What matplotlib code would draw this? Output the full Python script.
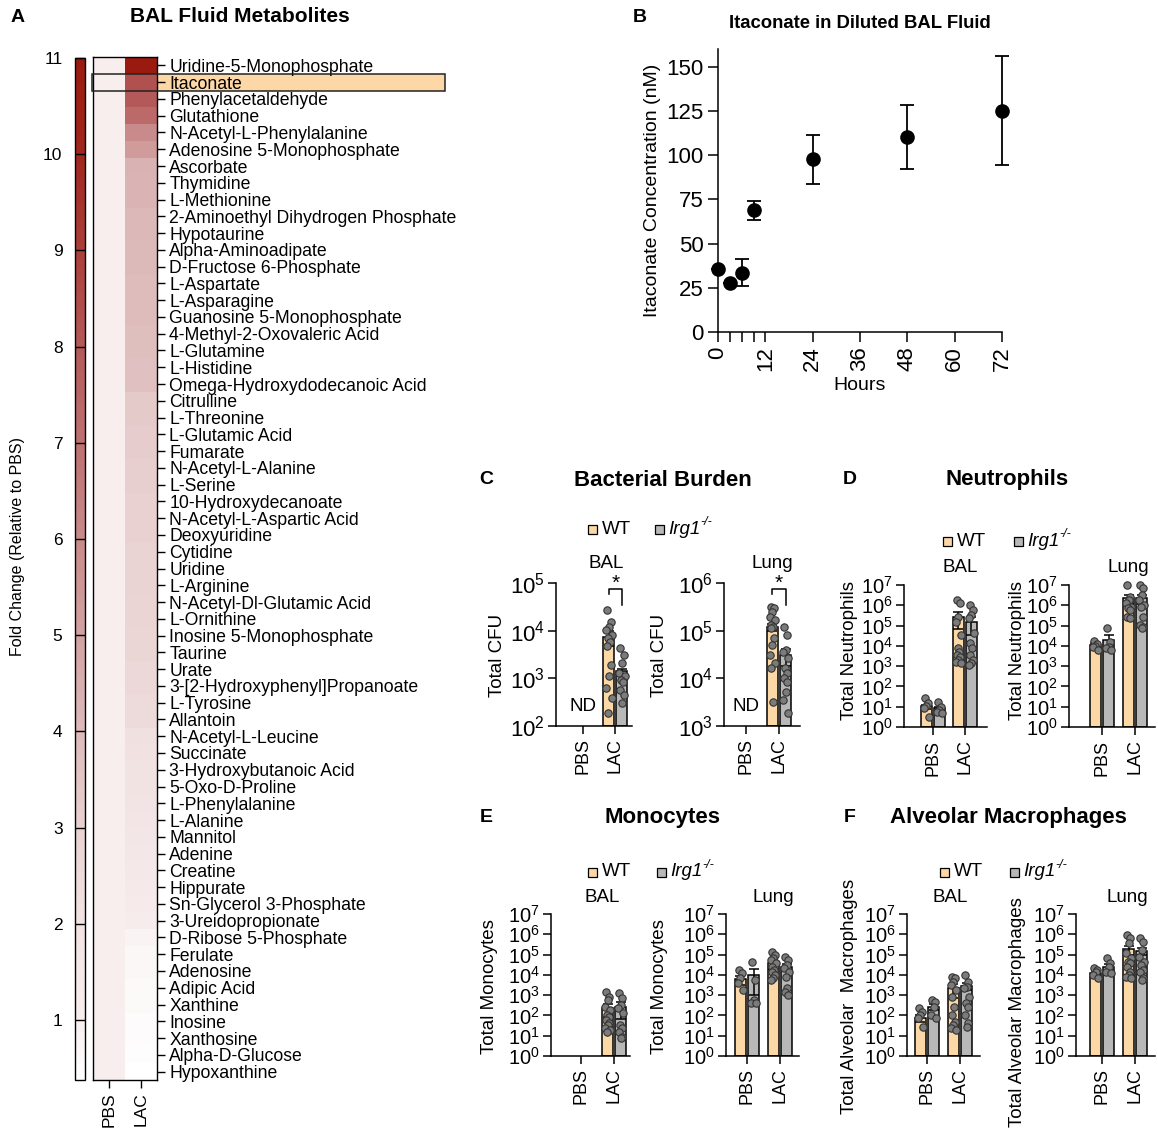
import numpy as np
import matplotlib
matplotlib.use('Agg')
import matplotlib.pyplot as plt
from matplotlib.colors import LinearSegmentedColormap
from matplotlib.patches import Rectangle

plt.rcParams['font.family'] = ['Liberation Sans', 'DejaVu Sans']
plt.rcParams['mathtext.fontset'] = 'custom'
plt.rcParams['mathtext.rm'] = 'Liberation Sans'
plt.rcParams['mathtext.it'] = 'Liberation Sans:italic'
plt.rcParams['axes.linewidth'] = 1.1

# ---------------- data ----------------
METABOLITES = [
    'Uridine-5-Monophosphate', 'Itaconate', 'Phenylacetaldehyde', 'Glutathione',
    'N-Acetyl-L-Phenylalanine', 'Adenosine 5-Monophosphate', 'Ascorbate', 'Thymidine',
    'L-Methionine', '2-Aminoethyl Dihydrogen Phosphate', 'Hypotaurine', 'Alpha-Aminoadipate',
    'D-Fructose 6-Phosphate', 'L-Aspartate', 'L-Asparagine', 'Guanosine 5-Monophosphate',
    '4-Methyl-2-Oxovaleric Acid', 'L-Glutamine', 'L-Histidine', 'Omega-Hydroxydodecanoic Acid',
    'Citrulline', 'L-Threonine', 'L-Glutamic Acid', 'Fumarate', 'N-Acetyl-L-Alanine',
    'L-Serine', '10-Hydroxydecanoate', 'N-Acetyl-L-Aspartic Acid', 'Deoxyuridine', 'Cytidine',
    'Uridine', 'L-Arginine', 'N-Acetyl-Dl-Glutamic Acid', 'L-Ornithine',
    'Inosine 5-Monophosphate', 'Taurine', 'Urate', '3-[2-Hydroxyphenyl]Propanoate',
    'L-Tyrosine', 'Allantoin', 'N-Acetyl-L-Leucine', 'Succinate', '3-Hydroxybutanoic Acid',
    '5-Oxo-D-Proline', 'L-Phenylalanine', 'L-Alanine', 'Mannitol', 'Adenine', 'Creatine',
    'Hippurate', 'Sn-Glycerol 3-Phosphate', '3-Ureidopropionate', 'D-Ribose 5-Phosphate',
    'Ferulate', 'Adenosine', 'Adipic Acid', 'Xanthine', 'Inosine', 'Xanthosine',
    'Alpha-D-Glucose', 'Hypoxanthine']
LAC_FC = [11.0, 8.3, 8.0, 7.3, 6.0, 5.3,
          4.3, 4.2, 4.2, 4.1, 4.1, 4.0, 4.0, 3.9, 3.9, 3.9, 3.8, 3.8, 3.7, 3.7,
          3.3, 3.3, 3.2, 3.2, 3.1, 3.1, 3.0, 3.0, 3.0, 2.9, 2.9, 2.9, 2.8, 2.8, 2.7,
          2.7, 2.6, 2.6, 2.5, 2.5,
          2.2, 2.1, 2.0, 2.0, 1.9, 1.8, 1.7, 1.6, 1.5, 1.4, 1.3, 1.2,
          0.8, 0.7, 0.7, 0.6, 0.6, 0.5, 0.5, 0.45, 0.4]
PBS_FC = [1.0] * len(METABOLITES)
CBAR_TICKS = list(range(1, 12))
CMAP_VALUES = [0.375, 1, 2, 3, 4, 5, 6, 7, 8, 9, 10, 11]
CMAP_COLORS = ['#ffffff', '#f8eeee', '#f2e3e3', '#e9d1d1', '#ddbaba', '#d2a2a2',
               '#c88a8a', '#be7171', '#b45959', '#ab3f3a', '#a2261e', '#9a1a10']

HOURS = [0, 3, 6, 9, 24, 48, 72]
ITA_NM = [35.4, 27.8, 33.5, 68.8, 97.6, 110.2, 125.2]
ITA_ERR = [0, 0, 7.5, 5.5, 14.0, 18.0, 31.0]

GROUPS = ['PBS', 'LAC']
# order in each list: WT-PBS, Irg1-PBS, WT-LAC, Irg1-LAC  (dots are log10 values)
C_BAL_MEAN = [np.nan, np.nan, 7400, 1350]
C_BAL_SEM = [0, 0, 2600, 250]
C_BAL_DOTS = [[], [],
              [4.43, 4.19, 4.08, 4.01, 3.91, 3.84, 3.77, 3.67, 3.28, 3.04, 2.79, 2.58, 2.27],
              [3.63, 3.49, 3.32, 3.11, 3.04, 2.97, 2.93, 2.76, 2.65, 2.48]]
C_LUNG_MEAN = [np.nan, np.nan, 1.2e5, 3.0e4]
C_LUNG_SEM = [0, 0, 2.1e4, 1.2e4]
C_LUNG_DOTS = [[], [],
               [5.50, 5.47, 5.40, 5.29, 5.22, 5.12, 5.08, 5.05, 4.84, 4.70, 4.49, 4.32, 4.21, 3.51],
               [5.08, 4.91, 4.60, 4.56, 4.42, 4.21, 4.11, 4.00, 3.93, 3.72, 3.55, 3.27]]
D_BAL_MEAN = [10, 7.4, 2.75e5, 1.55e5]
D_BAL_SEM = [2.5, 2.0, 2.1e5, 1.2e5]
D_BAL_DOTS = [[1.42, 1.2, 1.05, 0.95, 0.5],
              [1.25, 1.0, 0.84, 0.76, 0.68],
              [6.26, 6.10, 5.44, 5.19, 4.54, 3.88, 3.72, 3.55, 3.47, 3.31, 3.22, 3.14],
              [6.01, 5.77, 5.52, 5.36, 4.62, 4.13, 3.88, 3.55, 3.31, 3.14, 3.06]]
D_LUNG_MEAN = [1.1e4, 2.0e4, 2.2e6, 2.2e6]
D_LUNG_SEM = [3000, 1.3e4, 1.0e6, 1.0e6]
D_LUNG_DOTS = [[4.25, 4.1, 4.0, 3.95, 3.8],
               [4.87, 4.21, 3.96, 3.88, 3.80],
               [7.0, 6.43, 6.26, 6.10, 5.93, 5.85, 5.77, 5.44, 5.36],
               [7.0, 6.84, 6.51, 6.26, 6.01, 5.93, 5.44, 5.03, 4.95, 4.87]]
E_BAL_MEAN = [np.nan, np.nan, 225, 270]
E_BAL_SEM = [0, 0, 140, 200]
E_BAL_DOTS = [[], [],
              [3.17, 2.93, 2.76, 2.43, 2.27, 2.02, 1.94, 1.78, 1.62, 1.53, 1.37, 1.29, 1.20],
              [3.09, 2.84, 2.52, 2.35, 2.10, 1.53, 1.37, 1.20, 0.95, 0.87]]
E_LUNG_MEAN = [6000, 10000, 37000, 25000]
E_LUNG_SEM = [3000, 9000, 18000, 8000]
E_LUNG_DOTS = [[4.24, 4.08, 3.83, 3.59, 3.26],
               [4.65, 3.75, 2.76, 2.60, 2.60],
               [5.14, 4.98, 4.82, 4.73, 4.57, 4.40, 4.24, 4.16, 3.99, 3.83, 3.75],
               [4.90, 4.73, 4.49, 4.32, 4.16, 3.91, 3.34, 3.17, 3.01]]
F_BAL_MEAN = [75, 270, 2200, 2800]
F_BAL_SEM = [30, 90, 1500, 1100]
F_BAL_DOTS = [[2.35, 2.19, 2.02, 1.86, 1.45],
              [2.76, 2.68, 2.43, 2.02, 1.86],
              [3.91, 3.83, 3.67, 3.50, 3.26, 2.93, 2.43, 2.02, 1.69, 1.53, 1.37, 1.29],
              [3.99, 3.67, 3.42, 3.34, 2.93, 2.60, 2.43, 2.02, 1.62, 1.45]]
F_LUNG_MEAN = [12000, 25000, 1.8e5, 1.55e5]
F_LUNG_SEM = [2000, 9000, 8e4, 6e4]
F_LUNG_DOTS = [[4.32, 4.24, 4.16, 3.99, 3.83],
               [4.82, 4.57, 4.40, 4.16, 4.08],
               [5.97, 5.80, 5.55, 5.06, 4.82, 4.65, 4.57, 4.40, 4.16, 4.00, 3.91, 3.83],
               [5.80, 5.64, 5.22, 4.90, 4.65, 4.49, 4.24, 4.16, 3.83, 3.75]]

WT_COLOR = '#fcd8a6'
KO_COLOR = '#b8b8b8'
DOT_COLOR = '#7b7b7b'

# ---------------- figure helpers ----------------
W, H = 1158, 1130
fig = plt.figure(figsize=(W / 100, H / 100), dpi=100)


def add_ax(x0, y0, x1, y1):
    return fig.add_axes([x0 / W, 1 - y1 / H, (x1 - x0) / W, (y1 - y0) / H])


def ftext(x, y, s, **kw):
    kw.setdefault('ha', 'center')
    kw.setdefault('va', 'center')
    return fig.text(x / W, 1 - y / H, s, **kw)


# ---------------- A: heatmap ----------------
vmin, vmax = CMAP_VALUES[0], CMAP_VALUES[-1]
cmap = LinearSegmentedColormap.from_list(
    'wr', [((v - vmin) / (vmax - vmin), c) for v, c in zip(CMAP_VALUES, CMAP_COLORS)])
ax = add_ax(93, 57, 157, 1080)
data = np.column_stack([PBS_FC, LAC_FC])
im = ax.imshow(data, cmap=cmap, vmin=vmin, vmax=vmax, aspect='auto', interpolation='nearest')
ax.yaxis.tick_right()
ax.set_yticks(range(len(METABOLITES)))
ax.set_yticklabels(METABOLITES, fontsize=12.7)
ax.tick_params(axis='y', length=5.8, width=1, pad=3)
ax.set_xticks([0, 1])
ax.set_xticklabels(GROUPS, rotation=90, fontsize=12.5)
ax.tick_params(axis='x', length=6, width=1, pad=3)
for s in ax.spines.values():
    s.set_linewidth(1)

cax = add_ax(75, 58, 85, 1080)
cb = fig.colorbar(im, cax=cax, ticks=CBAR_TICKS)
cax.yaxis.set_ticks_position('left')
cax.tick_params(direction='in', length=7.2, width=1, labelsize=12.5, pad=9)
cb.outline.set_linewidth(1)
ftext(18, 547, 'Fold Change (Relative to PBS)', rotation=90, fontsize=11.5)

# Itaconate highlight
fig.add_artist(Rectangle((157 / W, 1 - 91 / H), (445 - 157) / W, 17 / H,
                         transform=fig.transFigure, facecolor='#fdd7a6',
                         edgecolor='none', zorder=-1))
fig.add_artist(Rectangle((92 / W, 1 - 91 / H), (445 - 92) / W, 17 / H,
                         transform=fig.transFigure, facecolor='none',
                         edgecolor='#222222', lw=1.1, zorder=3))

ftext(18, 17, 'A', fontsize=14, fontweight='bold')
ftext(240, 17, 'BAL Fluid Metabolites', fontsize=15, fontweight='bold')

# ---------------- B: itaconate time course ----------------
ax = add_ax(718, 49, 1002, 332)
ax.errorbar(HOURS, ITA_NM, yerr=ITA_ERR, fmt='o', color='black', ms=9.5,
            capsize=5, elinewidth=1.3, capthick=1.3, clip_on=False, zorder=3)
ax.set_xlim(0, 72)
ax.set_ylim(0, 160)
ax.set_yticks([0, 25, 50, 75, 100, 125, 150])
ax.set_xticks([0, 3, 6, 9, 12, 24, 36, 48, 60, 72])
ax.set_xticklabels(['0', '', '', '', '12', '24', '36', '48', '60', '72'], rotation=90)
ax.tick_params(labelsize=16, length=7, width=1.1)
ax.spines['top'].set_visible(False)
ax.spines['right'].set_visible(False)
ax.set_ylabel('Itaconate Concentration (nM)', fontsize=14)
ax.set_xlabel('Hours', fontsize=14)
ftext(640, 17, 'B', fontsize=14, fontweight='bold')
ftext(860, 24, 'Itaconate in Diluted BAL Fluid', fontsize=13.3, fontweight='bold')

# ---------------- C-F: bar panels ----------------
JIT = [-0.05, 0.05, 0.0, -0.08, 0.08, -0.03, 0.03]


def bar_panel(box, xlim, ylim, means, sems, dots, ticksize=14.5):
    ax = add_ax(*box)
    pos = [-0.2, 0.2, 0.8, 1.2]
    cols = [WT_COLOR, KO_COLOR, WT_COLOR, KO_COLOR]
    for p, m, s, d, c in zip(pos, means, sems, dots, cols):
        if not np.isnan(m):
            ax.bar(p, m, width=0.34, bottom=ylim[0], color=c, edgecolor='black',
                   linewidth=1.1, zorder=2)
            lo = min(s, m - ylim[0] * 1.01)
            ax.errorbar(p, m, yerr=[[lo], [s]], color='black', capsize=3.5,
                        elinewidth=1.1, capthick=1.1, zorder=3)
        if d:
            xs = [p + JIT[i % len(JIT)] for i in range(len(d))]
            ax.scatter(xs, 10 ** np.array(d), s=28, facecolor=DOT_COLOR,
                       edgecolor='#333333', linewidth=0.8, zorder=4, clip_on=False)
    ax.set_yscale('log')
    ax.set_ylim(*ylim)
    ax.set_xlim(*xlim)
    exps = np.arange(int(round(np.log10(ylim[0]))), int(round(np.log10(ylim[1]))) + 1)
    ax.set_yticks(10.0 ** exps)
    ax.set_yticklabels([r'$10^{%d}$' % e for e in exps])
    ax.set_xticks([0, 1])
    ax.set_xticklabels(GROUPS, rotation=90, fontsize=13)
    ax.minorticks_off()
    ax.tick_params(axis='y', labelsize=ticksize, length=6, width=1.1, pad=2)
    ax.tick_params(axis='x', length=6, width=1.1, pad=3)
    ax.spines['top'].set_visible(False)
    ax.spines['right'].set_visible(False)
    return ax


def legend(x_wt, x_ko, y):
    for x, c in [(x_wt, WT_COLOR), (x_ko, KO_COLOR)]:
        fig.add_artist(Rectangle(((x - 4.5) / W, 1 - (y + 4.5) / H), 9 / W, 9 / H,
                                 transform=fig.transFigure, facecolor=c,
                                 edgecolor='black', lw=0.9))
    ftext(x_wt + 10, y, 'WT', fontsize=13.5, ha='left')
    ftext(x_ko + 9, y, 'Irg1', fontsize=13.5, ha='left', style='italic')
    ftext(x_ko + 41, y - 7, '-/-', fontsize=9, ha='left', style='italic')


# C
ax = bar_panel((556, 583, 632, 726), (-0.83, 1.51), (1e2, 1e5), C_BAL_MEAN, C_BAL_SEM,
               C_BAL_DOTS, 16)
ax.text(0, 2.6e2, 'ND', ha='center', va='center', fontsize=13.5)
ax.plot([0.8, 0.8, 1.2, 1.2], [6.0e4, 7.5e4, 7.5e4, 3.5e4], color='black', lw=1.1,
        clip_on=False)
ax.text(1.0, 1.0e5, '*', ha='center', va='center', fontsize=15)
ax = bar_panel((724, 583, 800, 726), (-0.67, 1.64), (1e3, 1e6), C_LUNG_MEAN, C_LUNG_SEM,
               C_LUNG_DOTS, 16)
ax.text(0, 2.6e3, 'ND', ha='center', va='center', fontsize=13.5)
ax.plot([0.8, 0.8, 1.2, 1.2], [6.0e5, 7.5e5, 7.5e5, 3.5e5], color='black', lw=1.1,
        clip_on=False)
ax.text(1.0, 1.0e6, '*', ha='center', va='center', fontsize=15)
ftext(497, 655, 'Total CFU', rotation=90, fontsize=13.5)
ftext(659, 655, 'Total CFU', rotation=90, fontsize=13.5)
ftext(606, 563, 'BAL', fontsize=13.5)
ftext(772, 563, 'Lung', fontsize=13.5)
legend(592, 659, 529)
ftext(486, 480, 'C', fontsize=14, fontweight='bold')
ftext(663, 480, 'Bacterial Burden', fontsize=16, fontweight='bold')

# D
bar_panel((904, 585, 987, 727), (-0.9, 1.69), (1, 1e7), D_BAL_MEAN, D_BAL_SEM, D_BAL_DOTS)
bar_panel((1069, 585, 1155, 727), (-1.0, 1.6), (1, 1e7), D_LUNG_MEAN, D_LUNG_SEM,
          D_LUNG_DOTS)
ftext(850, 650, 'Total Neutrophils', rotation=90, fontsize=13.5)
ftext(1018, 650, 'Total Neutrophils', rotation=90, fontsize=13.5)
ftext(960, 568, 'BAL', fontsize=13.5)
ftext(1128, 568, 'Lung', fontsize=13.5)
legend(947, 1018, 541)
ftext(850, 480, 'D', fontsize=14, fontweight='bold')
ftext(1007, 480, 'Neutrophils', fontsize=16, fontweight='bold')

# E
bar_panel((551, 914, 630, 1056), (-0.91, 1.48), (1, 1e7), E_BAL_MEAN, E_BAL_SEM, E_BAL_DOTS)
bar_panel((726, 914, 799, 1056), (-0.64, 1.58), (1, 1e7), E_LUNG_MEAN, E_LUNG_SEM,
          E_LUNG_DOTS)
ftext(490, 987, 'Total Monocytes', rotation=90, fontsize=13.5)
ftext(660, 987, 'Total Monocytes', rotation=90, fontsize=13.5)
ftext(602, 897, 'BAL', fontsize=13.5)
ftext(773, 897, 'Lung', fontsize=13.5)
legend(592, 661, 872)
ftext(486, 817, 'E', fontsize=14, fontweight='bold')
ftext(663, 817, 'Monocytes', fontsize=16, fontweight='bold')

# F
bar_panel((907, 914, 980, 1056), (-0.61, 1.61), (1, 1e7), F_BAL_MEAN, F_BAL_SEM, F_BAL_DOTS)
bar_panel((1076, 914, 1155, 1056), (-0.79, 1.6), (1, 1e7), F_LUNG_MEAN, F_LUNG_SEM,
          F_LUNG_DOTS)
ftext(850, 996, 'Total Alveolar  Macrophages', rotation=90, fontsize=13.5)
ftext(1017, 1012, 'Total Alveolar Macrophages', rotation=90, fontsize=13.5)
ftext(950, 897, 'BAL', fontsize=13.5)
ftext(1127, 897, 'Lung', fontsize=13.5)
legend(944, 1014, 872)
ftext(850, 817, 'F', fontsize=14, fontweight='bold')
ftext(1008, 817, 'Alveolar Macrophages', fontsize=16, fontweight='bold')

fig.savefig('out.png', dpi=100)
